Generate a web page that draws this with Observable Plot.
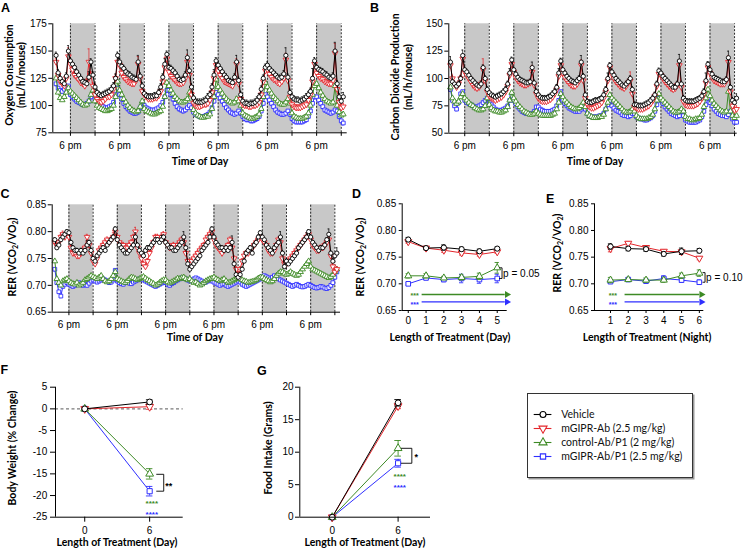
<!DOCTYPE html>
<html><head><meta charset="utf-8">
<script src="https://cdn.jsdelivr.net/npm/d3@7"></script>
<script src="https://cdn.jsdelivr.net/npm/@observablehq/plot@0.6"></script>
<style>
html,body{margin:0;padding:0;background:#fff}
#fig{position:relative;width:747px;height:549px;overflow:hidden;background:#fff}
</style></head>
<body><div id="fig"></div>
<script>
// ---------------- DATA ----------------
const seriesNames = ["Vehicle","mGIPR-Ab (2.5 mg/kg)","control-Ab/P1 (2 mg/kg)","mGIPR-Ab/P1 (2.5 mg/kg)"];
// hours relative to the first 6 pm (lights off)
const hours = d3.range(-7, 134);
const darkStarts = [0, 24, 48, 72, 96, 120];
const phaseBounds = [0, 12, 24, 36, 48, 60, 72, 84, 96, 108, 120, 132];

// Panel A: oxygen consumption (mL/h/mouse)
const a_vehicle = [
146,130,125,122,120,127,150,
141,138,135,131,128,125,122,121,120,126,140,128,
117,112,110,109,110,111,112,113,115,118,125,146,
140,136,134,131,129,128,126,125,124,140,127,118,
111,109,108,108,108,109,109,112,117,126,138,147,
135,134,132,130,127,124,123,124,128,144,132,117,
107,104,103,103,103,104,105,108,110,117,128,141,
137,134,131,128,126,123,122,121,126,140,123,110,
104,102,102,101,102,102,103,105,108,115,125,135,
137,134,132,130,128,126,125,126,129,146,126,112,
108,106,105,105,104,105,106,108,110,113,125,141,
135,133,132,131,129,128,126,125,127,150,120,108,
104,108];
const a_mgipr = [
140,128,122,120,118,125,145,
138,133,128,126,124,121,120,118,122,140,128,118,
110,106,104,103,104,106,108,108,110,115,125,140,
137,130,126,124,122,121,120,120,123,138,125,113,
110,108,106,106,106,107,107,109,113,122,135,143,
131,127,125,123,121,120,120,121,125,140,128,110,
102,100,99,99,100,101,101,102,105,112,125,137,
132,128,125,122,121,120,119,118,122,138,120,106,
101,100,100,99,99,100,100,101,103,110,122,132,
133,129,126,124,123,121,120,122,125,142,123,108,
101,99,98,98,98,99,100,101,105,110,122,138,
130,127,125,124,122,121,120,120,123,148,115,103,
98,99];
const a_ctrlP1 = [
125,112,107,105,108,112,116,
113,111,109,107,105,103,101,100,101,104,110,114,
104,100,98,97,96,95,95,96,97,100,108,122,
114,110,106,103,100,98,96,95,94,95,99,104,
97,95,94,93,92,92,93,94,95,99,108,121,
118,114,111,108,106,104,103,103,104,106,112,110,
96,93,91,90,89,89,90,90,92,97,108,124,
117,114,111,108,106,104,103,102,103,106,104,100,
93,91,90,89,88,88,89,90,92,97,108,121,
117,114,111,108,106,104,102,101,101,103,106,102,
93,90,89,88,88,88,89,90,93,100,110,118,
120,116,112,109,106,104,103,102,103,118,100,94,
91,92];
const a_mgiprP1 = [
120,116,114,113,115,117,118,
110,108,106,104,103,102,101,101,102,104,108,110,
106,104,102,100,99,98,98,99,100,103,110,116,
110,106,102,99,97,95,94,93,93,94,98,102,
100,98,97,96,96,96,97,98,100,103,108,114,
114,110,106,102,99,97,96,95,96,98,100,98,
94,92,91,90,90,90,91,92,94,98,104,112,
110,107,104,101,98,96,94,93,92,93,95,93,
90,88,87,87,86,86,87,88,90,95,102,110,
108,105,102,99,96,94,93,92,92,93,95,92,
88,86,85,85,85,85,86,87,90,95,102,108,
108,105,102,99,96,95,94,93,94,96,95,90,
86,84];
const a_sem = [3, 3, 2, 2];
const a_vehicle_bigerr = [[-1,5],[9,5],[22,4],[33,6],[46,5],[57,7],[70,5],[81,6],[105,7],[118,9],[129,8],[133,4]];
const a_mgipr_bigerr = [[-5,6],[-1,8],[9,12],[23,6],[33,7],[57,7],[70,6],[81,5],[105,6],[129,9]];

// Panel B: carbon dioxide production (mL/h/mouse)
const b_vehicle = [
115,97,95,93,95,100,121,
108,106,103,100,98,96,94,93,95,110,100,90,
87,85,84,83,84,85,86,88,90,95,105,117,
108,104,101,99,98,97,96,96,97,110,96,88,
85,83,82,82,82,83,84,86,88,92,105,116,
108,105,102,100,98,97,96,98,100,115,102,85,
79,78,78,79,80,80,81,82,85,90,100,112,
106,103,100,98,96,94,93,95,97,100,90,76,
76,75,75,75,76,77,78,80,82,85,95,107,
105,102,100,98,96,94,92,92,95,116,95,82,
80,79,79,79,79,80,81,82,84,88,98,113,
108,104,101,100,99,98,97,97,99,119,92,80,
78,82];
const b_mgipr = [
112,100,95,92,95,100,118,
106,103,100,97,94,92,91,92,95,108,98,88,
84,82,81,80,81,82,83,85,88,93,103,113,
106,101,98,96,95,94,94,95,96,106,94,86,
82,80,79,79,79,80,81,83,86,90,102,112,
105,101,98,96,94,93,93,95,98,112,98,82,
76,74,73,73,74,75,76,78,82,88,98,110,
104,100,97,95,93,92,91,93,96,98,86,74,
73,72,72,72,73,74,75,77,80,84,93,104,
103,100,97,95,93,91,90,91,94,112,92,79,
76,75,75,75,75,76,77,79,82,86,96,110,
105,101,98,97,96,95,95,95,98,115,88,75,
71,72];
const b_ctrlP1 = [
92,82,79,77,79,83,86,
82,80,78,76,75,73,72,71,71,72,75,82,
76,73,71,70,70,69,69,70,71,74,80,87,
82,79,76,74,72,70,69,68,67,67,68,70,
68,67,66,66,66,66,66,67,68,72,78,86,
83,80,78,76,74,73,72,72,73,75,78,74,
68,66,65,64,64,64,65,65,67,72,78,85,
82,80,78,76,74,72,70,69,69,70,72,70,
66,64,63,63,63,63,64,65,67,72,80,86,
82,80,78,76,74,72,70,69,69,70,72,70,
65,63,63,62,62,63,63,64,67,74,82,90,
84,80,77,75,73,71,70,69,70,88,70,66,
64,66];
const b_mgiprP1 = [
90,80,75,72,78,86,88,
80,78,77,76,75,74,74,75,76,78,80,82,
78,76,74,72,71,71,71,72,73,75,80,84,
80,77,74,72,70,69,68,68,68,68,70,74,
74,72,71,70,70,70,70,71,72,75,80,88,
80,77,75,73,72,71,70,70,70,72,74,72,
68,66,65,65,65,65,66,66,68,72,76,80,
75,73,71,70,69,67,66,66,65,66,68,68,
65,64,63,63,62,62,63,64,66,70,76,82,
80,77,74,72,70,68,67,66,65,66,70,66,
62,61,60,60,60,60,61,62,65,70,76,82,
78,75,72,70,68,67,66,66,65,67,70,63,
60,60];
const b_sem = [2.5, 3, 1.5, 1.5];
const b_vehicle_bigerr = [[-7,5],[-1,5],[22,4],[33,5],[46,4],[57,6],[70,5],[105,6],[118,7],[129,6],[133,4]];
const b_mgipr_bigerr = [[-1,4],[9,10],[23,5],[33,6],[57,5],[81,8],[105,5],[129,6]];

// Panel C: RER (VCO2/VO2)
const c_vehicle = [
.785,.770,.775,.785,.790,.795,.800,
.798,.780,.770,.765,.765,.760,.765,.760,.765,.775,.780,.765,
.750,.745,.755,.760,.765,.770,.765,.775,.780,.785,.790,.805,
.785,.775,.770,.765,.760,.760,.765,.770,.775,.790,.775,.765,
.760,.755,.765,.770,.770,.775,.780,.785,.785,.780,.785,.790,
.780,.775,.770,.770,.765,.765,.770,.775,.780,.790,.770,.740,
.730,.735,.740,.745,.750,.755,.765,.770,.775,.780,.790,.805,
.790,.780,.775,.770,.770,.765,.770,.765,.770,.780,.740,.720,
.715,.720,.730,.745,.760,.765,.770,.760,.775,.780,.790,.798,
.790,.785,.775,.770,.765,.760,.770,.775,.780,.790,.760,.735,
.745,.740,.745,.750,.755,.760,.770,.775,.780,.785,.790,.800,
.790,.780,.775,.770,.765,.770,.770,.775,.785,.795,.760,.745,
.755,.760];
const c_mgipr = [
.780,.775,.780,.790,.795,.790,.795,
.790,.770,.760,.760,.755,.755,.760,.765,.770,.790,.775,.760,
.745,.740,.750,.765,.770,.775,.780,.785,.780,.785,.790,.800,
.790,.780,.775,.775,.770,.770,.775,.780,.790,.800,.770,.760,
.750,.740,.735,.745,.760,.770,.780,.790,.790,.785,.790,.795,
.780,.775,.770,.770,.775,.770,.775,.780,.785,.780,.760,.745,
.740,.745,.750,.755,.760,.765,.770,.775,.785,.790,.795,.800,
.785,.775,.770,.765,.760,.765,.770,.775,.785,.770,.750,.730,
.720,.730,.745,.755,.760,.760,.765,.770,.775,.780,.785,.790,
.785,.780,.775,.765,.760,.760,.765,.775,.785,.780,.750,.740,
.740,.745,.750,.755,.760,.765,.770,.775,.780,.785,.790,.795,
.785,.775,.770,.765,.765,.770,.770,.775,.780,.785,.755,.735,
.725,.730];
const c_ctrlP1 = [
.745,.712,.705,.700,.708,.710,.712,
.708,.705,.703,.702,.705,.700,.702,.705,.710,.712,.715,.718,
.716,.714,.712,.715,.718,.712,.708,.706,.708,.712,.718,.725,
.712,.710,.708,.706,.705,.708,.712,.715,.714,.712,.710,.712,
.714,.716,.713,.710,.708,.705,.703,.700,.702,.705,.708,.710,
.710,.706,.704,.706,.708,.710,.713,.712,.714,.715,.712,.710,
.712,.708,.705,.706,.703,.700,.702,.705,.708,.710,.712,.713,
.715,.712,.710,.708,.710,.712,.708,.705,.706,.708,.710,.712,
.714,.712,.710,.708,.707,.705,.706,.707,.708,.710,.713,.715,
.715,.712,.710,.708,.706,.708,.712,.718,.722,.725,.725,.722,
.720,.722,.725,.722,.720,.718,.720,.725,.730,.735,.740,.745,
.735,.730,.728,.726,.724,.722,.720,.718,.716,.714,.716,.720,
.725,.730];
const c_mgiprP1 = [
.730,.705,.688,.680,.698,.702,.705,
.702,.700,.698,.700,.702,.705,.703,.700,.702,.700,.704,.708,
.710,.708,.706,.708,.710,.712,.710,.708,.705,.706,.710,.728,
.708,.705,.703,.702,.705,.706,.704,.703,.706,.708,.710,.712,
.712,.710,.708,.706,.704,.702,.700,.698,.700,.702,.704,.706,
.705,.702,.700,.703,.705,.708,.710,.712,.714,.713,.712,.710,
.708,.710,.712,.714,.712,.710,.708,.705,.706,.708,.710,.708,
.706,.704,.702,.700,.702,.703,.700,.698,.700,.702,.704,.706,
.708,.706,.702,.700,.698,.700,.702,.704,.706,.708,.710,.712,
.716,.718,.716,.714,.712,.715,.718,.716,.712,.710,.708,.706,
.704,.702,.700,.698,.700,.702,.700,.698,.697,.698,.700,.702,
.700,.698,.696,.695,.696,.698,.697,.695,.694,.696,.700,.705,
.715,.725];
const c_sem = [0.004, 0.005, 0.003, 0.003];
const c_vehicle_bigerr = [[9,.008],[33,.008],[46,.008],[57,.01],[81,.012],[105,.01],[118,.008],[129,.01],[133,.01]];
const c_mgipr_bigerr = [[-3,.006],[22,.008],[33,.008],[57,.007]];

// Panel D: RER by day of treatment
const d_day = [0, 1, 2, 3, 4, 5];
const d_vehicle = [0.783, 0.767, 0.768, 0.765, 0.761, 0.766];
const d_mgipr = [0.779, 0.767, 0.763, 0.758, 0.755, 0.760];
const d_ctrlP1 = [0.715, 0.715, 0.711, 0.712, 0.714, 0.730];
const d_mgiprP1 = [0.700, 0.711, 0.708, 0.710, 0.708, 0.710];
const d_vehicle_err = [0.004, 0.003, 0.005, 0.004, 0.004, 0.003];
const d_mgipr_err = [0.003, 0.003, 0.004, 0.004, 0.003, 0.003];
const d_ctrlP1_err = [0.004, 0.004, 0.003, 0.005, 0.006, 0.010];
const d_mgiprP1_err = [0.002, 0.003, 0.004, 0.008, 0.007, 0.008];

// Panel E: RER by night of treatment
const e_night = [1, 2, 3, 4, 5, 6];
const e_vehicle = [0.770, 0.766, 0.765, 0.756, 0.761, 0.762];
const e_mgipr = [0.766, 0.776, 0.768, 0.761, 0.760, 0.748];
const e_ctrlP1 = [0.707, 0.708, 0.707, 0.707, 0.715, 0.720];
const e_mgiprP1 = [0.704, 0.708, 0.705, 0.710, 0.707, 0.703];
const e_vehicle_err = [0.005, 0.004, 0.004, 0.004, 0.006, 0.004];
const e_mgipr_err = [0.006, 0.003, 0.003, 0.003, 0.003, 0.003];
const e_ctrlP1_err = [0.005, 0.003, 0.004, 0.004, 0.005, 0.006];
const e_mgiprP1_err = [0.003, 0.003, 0.003, 0.005, 0.004, 0.004];

// Panel F: body weight (% change)
const f_day = [0, 6];
const f_vehicle = [0, 1.6];
const f_mgipr = [0, 0.5];
const f_ctrlP1 = [0, -15.0];
const f_mgiprP1 = [0, -19.0];
const f_vehicle_err = [0, 0.5];
const f_mgipr_err = [0, 0.6];
const f_ctrlP1_err = [0, 1.2];
const f_mgiprP1_err = [0, 1.1];

// Panel G: food intake (grams)
const g_day = [0, 6];
const g_vehicle = [0, 17.6];
const g_mgipr = [0, 17.1];
const g_ctrlP1 = [0, 10.6];
const g_mgiprP1 = [0, 8.3];
const g_vehicle_err = [0, 0.5];
const g_mgipr_err = [0, 0.4];
const g_ctrlP1_err = [0, 1.2];
const g_mgiprP1_err = [0, 0.6];

// ---------------- STYLE ----------------
const COLORS = ["#000000", "#e3262b", "#3d8a25", "#2f2fff"];
const ERRDIR = [1, 1, 1, -1];
const sqrt3 = Math.sqrt(3);
const triangleDown = {draw(ctx, size) {
  const y = -Math.sqrt(size / (sqrt3 * 3));
  ctx.moveTo(0, -y * 2); ctx.lineTo(-sqrt3 * y, y); ctx.lineTo(sqrt3 * y, y); ctx.closePath();
}};
const triangleRight = {draw(ctx, size) {
  const y = -Math.sqrt(size / (sqrt3 * 3));
  ctx.moveTo(-y * 2, 0); ctx.lineTo(y, -sqrt3 * y); ctx.lineTo(y, sqrt3 * y); ctx.closePath();
}};
const SYMBOLS = [d3.symbolCircle, triangleDown, d3.symbolTriangle, d3.symbolSquare];
const TICKFONT = "'Liberation Sans', Arial, Helvetica, sans-serif";
const fig = document.getElementById("fig");

function place(el, left, top) {
  el.style.position = "absolute";
  el.style.left = left + "px";
  el.style.top = top + "px";
  el.style.background = "transparent";
  el.style.overflow = "visible";
  el.style.maxWidth = "none";
  fig.appendChild(el);
}

// ---------------- TIME COURSE PANELS ----------------
function timePanel(cfg) {
  const {vals, sem, big, yDom, yTicks, yFmt, xDom, left, top, width, height, m} = cfg;
  const marks = [
    Plot.rect(darkStarts, {x1: d => d, x2: d => d + 12, y1: () => yDom[0], y2: () => yDom[1], fill: "#c8c8c8"}),
    Plot.ruleX(phaseBounds, {x: d => d, y1: () => yDom[0], y2: () => yDom[1], stroke: "#111", strokeWidth: 0.9, strokeDasharray: "2,1.5"})
  ];
  for (const k of [3, 2, 1, 0]) {
    const bm = new Map(big[k] || []);
    const rows = hours.map((t, i) => ({t, v: vals[k][i], e: bm.has(t) ? bm.get(t) : sem[k]}));
    const tip = d => d.v + ERRDIR[k] * d.e;
    marks.push(
      Plot.ruleX(rows, {x: "t", y1: "v", y2: tip, stroke: COLORS[k], strokeWidth: 0.7}),
      Plot.ruleY(rows, {y: tip, x1: d => d.t - 0.45, x2: d => d.t + 0.45, stroke: COLORS[k], strokeWidth: 0.7}),
      Plot.line(rows, {x: "t", y: "v", stroke: COLORS[k], strokeWidth: 1}),
      Plot.dot(rows, {x: "t", y: "v", symbol: SYMBOLS[k], r: 2.1, stroke: COLORS[k], strokeWidth: 0.9, fill: "#fff"})
    );
  }
  marks.push(Plot.ruleX([xDom[0]], {stroke: "#000", strokeWidth: 1}), Plot.ruleY([yDom[0]], {stroke: "#000", strokeWidth: 1}));
  const el = Plot.plot({
    width, height, marginLeft: m[0], marginTop: m[1], marginRight: m[2], marginBottom: m[3],
    x: {domain: xDom, ticks: phaseBounds, tickFormat: d => (d % 24 === 0 ? "6 pm" : ""), tickSize: 3.5, tickPadding: 5.5, label: null},
    y: {domain: yDom, ticks: yTicks, tickFormat: yFmt, tickSize: 4, tickPadding: 2, label: null},
    style: {fontFamily: TICKFONT, fontSize: "10px", color: "#000"},
    marks
  });
  place(el, left, top);
}

timePanel({vals: [a_vehicle, a_mgipr, a_ctrlP1, a_mgiprP1], sem: a_sem, big: [a_vehicle_bigerr, a_mgipr_bigerr],
  yDom: [75, 175], yTicks: [75, 100, 125, 150, 175], yFmt: d => String(d), xDom: [-8.6, 134.9],
  left: 0, top: 0, width: 350, height: 170, m: [52.3, 23.3, 3.3, 37.7]});
timePanel({vals: [b_vehicle, b_mgipr, b_ctrlP1, b_mgiprP1], sem: b_sem, big: [b_vehicle_bigerr, b_mgipr_bigerr],
  yDom: [50, 150], yTicks: [50, 75, 100, 125, 150], yFmt: d => String(d), xDom: [-7.8, 133.3],
  left: 370, top: 0, width: 377, height: 170, m: [78.3, 23.3, 10.3, 37.3]});
timePanel({vals: [c_vehicle, c_mgipr, c_ctrlP1, c_mgiprP1], sem: c_sem, big: [c_vehicle_bigerr, c_mgipr_bigerr],
  yDom: [0.65, 0.85], yTicks: [0.65, 0.70, 0.75, 0.80, 0.85], yFmt: d3.format(".2f"), xDom: [-8.3, 134.8],
  left: 0, top: 175, width: 350, height: 165, m: [51.7, 29.3, 10, 28.3]});

// ---------------- TREATMENT PANELS ----------------
function treatPanel(cfg) {
  const {xs, vals, errs, xDom, xTicks, yDom, yTicks, yFmt, left, top, width, height, m, r, capW, extra, under, tx, ty} = cfg;
  const marks = [...(under || [])];
  for (const k of [3, 2, 1, 0]) {
    const rows = xs.map((x, i) => ({x, v: vals[k][i], e: errs[k][i]}));
    const er = rows.filter(d => d.e > 0);
    marks.push(
      Plot.ruleX(er, {x: "x", y1: d => d.v - d.e, y2: d => d.v + d.e, stroke: COLORS[k], strokeWidth: 0.9}),
      Plot.ruleY(er, {y: d => d.v + d.e, x1: d => d.x - capW, x2: d => d.x + capW, stroke: COLORS[k], strokeWidth: 0.9}),
      Plot.ruleY(er, {y: d => d.v - d.e, x1: d => d.x - capW, x2: d => d.x + capW, stroke: COLORS[k], strokeWidth: 0.9}),
      Plot.line(rows, {x: "x", y: "v", stroke: COLORS[k], strokeWidth: 1}),
      Plot.dot(rows, {x: "x", y: "v", symbol: SYMBOLS[k], r, stroke: COLORS[k], strokeWidth: 1, fill: "#fff"})
    );
  }
  marks.push(...(extra || []));
  marks.push(Plot.ruleX([xDom[0]], {stroke: "#000", strokeWidth: 1}), Plot.ruleY([yDom[0]], {stroke: "#000", strokeWidth: 1}));
  const el = Plot.plot({
    width, height, marginLeft: m[0], marginTop: m[1], marginRight: m[2], marginBottom: m[3],
    x: {domain: xDom, ticks: xTicks, tickFormat: d => String(d), tickSize: tx[0], tickPadding: tx[1], label: null},
    y: {domain: yDom, ticks: yTicks, tickFormat: yFmt, tickSize: ty[0], tickPadding: ty[1], label: null},
    style: {fontFamily: TICKFONT, fontSize: "10px", color: "#000"},
    marks
  });
  place(el, left, top);
}

// significance stars: shift = extra vertical nudge in px (negative = up)
function stars(x, y, s, color, size, shift) {
  return Plot.text([{x, y, s}], {x: "x", y: "y", text: "s", fill: color, fontSize: size, fontWeight: "bold", dy: size * 0.3 + shift, lineHeight: 0.8});
}
function sigArrow(y, x1, x2, color, starX, s, shift) {
  return [
    Plot.ruleY([y], {x1: () => x1, x2: () => x2 - 0.1, stroke: color, strokeWidth: 1.3}),
    Plot.dot([{x: x2, y}], {x: "x", y: "y", symbol: triangleRight, r: 2.6, fill: color, stroke: "none"}),
    stars(starX, y, s, color, 7, shift)
  ];
}
function bracket(x0, x1, y1, y2) {
  return Plot.line([{x: x0, y: y1}, {x: x1, y: y1}, {x: x1, y: y2}, {x: x0, y: y2}], {x: "x", y: "y", stroke: "#000", strokeWidth: 0.9});
}
function label(x, y, s, opts = {}) {
  return Plot.text([{x, y, s}], {x: "x", y: "y", text: "s", textAnchor: "start", fontSize: 10, fill: "#000", ...opts});
}

treatPanel({xs: d_day, vals: [d_vehicle, d_mgipr, d_ctrlP1, d_mgiprP1], errs: [d_vehicle_err, d_mgipr_err, d_ctrlP1_err, d_mgiprP1_err],
  xDom: [-0.34, 5.56], xTicks: d_day, yDom: [0.65, 0.85], yTicks: [0.65, 0.70, 0.75, 0.80, 0.85], yFmt: d3.format(".2f"),
  left: 370, top: 175, width: 180, height: 165, m: [31.7, 28.3, 43.3, 30], r: 2.6, capW: 0.12, tx: [3, 3.5], ty: [3, 3],
  extra: [
    ...sigArrow(0.680, 0.78, 5.55, COLORS[2], 0.36, "***", -0.8),
    ...sigArrow(0.666, 0.78, 5.55, COLORS[3], 0.36, "***", 0.8),
    bracket(5.13, 5.27, 0.730, 0.710),
    label(5.33, 0.7195, "p = 0.05")
  ]});

treatPanel({xs: e_night, vals: [e_vehicle, e_mgipr, e_ctrlP1, e_mgiprP1], errs: [e_vehicle_err, e_mgipr_err, e_ctrlP1_err, e_mgiprP1_err],
  xDom: [0.1, 6.25], xTicks: e_night, yDom: [0.65, 0.85], yTicks: [0.65, 0.70, 0.75, 0.80, 0.85], yFmt: d3.format(".2f"),
  left: 565, top: 175, width: 182, height: 165, m: [29, 28.3, 43.7, 30], r: 2.6, capW: 0.12, tx: [3, 3.5], ty: [3, 3],
  extra: [
    ...sigArrow(0.680, 1.82, 6.12, COLORS[2], 1.13, "***", -0.8),
    ...sigArrow(0.666, 1.82, 6.12, COLORS[3], 1.13, "***", 0.8),
    bracket(6.2, 6.32, 0.721, 0.703),
    label(6.38, 0.712, "p = 0.10")
  ]});

treatPanel({xs: f_day, vals: [f_vehicle, f_mgipr, f_ctrlP1, f_mgiprP1], errs: [f_vehicle_err, f_mgipr_err, f_ctrlP1_err, f_mgiprP1_err],
  xDom: [-2.7, 9.1], xTicks: f_day, yDom: [-25, 5], yTicks: [-25, -20, -15, -10, -5, 0, 5], yFmt: d => String(d),
  left: 0, top: 370, width: 200, height: 179, m: [55, 16.7, 17.3, 32.3], r: 2.9, capW: 0.3, tx: [5, 5], ty: [5, 3.3],
  under: [Plot.ruleY([0], {stroke: "#7a7a7a", strokeWidth: 1.3, strokeDasharray: "3,2.5"})],
  extra: [
    bracket(6.65, 7.3, -15.1, -19.0),
    label(7.45, -17.2, "**", {fontSize: 9, fontWeight: "bold", dy: 2.5}),
    stars(6.2, -21.7, "****", COLORS[2], 8, -1),
    stars(6.2, -23.6, "****", COLORS[3], 8, 1)
  ]});

treatPanel({xs: g_day, vals: [g_vehicle, g_mgipr, g_ctrlP1, g_mgiprP1], errs: [g_vehicle_err, g_mgipr_err, g_ctrlP1_err, g_mgiprP1_err],
  xDom: [-2.95, 8.95], xTicks: g_day, yDom: [0, 20], yTicks: [0, 5, 10, 15, 20], yFmt: d => String(d),
  left: 250, top: 370, width: 200, height: 179, m: [49.3, 16.7, 20, 32.3], r: 2.9, capW: 0.3, tx: [5, 4.5], ty: [4.3, 2],
  extra: [
    bracket(6.3, 7.25, 10.6, 8.3),
    label(7.5, 9.6, "*", {fontSize: 9, fontWeight: "bold", dy: 2.5}),
    stars(6.15, 6.35, "****", COLORS[2], 8, -1),
    stars(6.15, 5.05, "****", COLORS[3], 8, 1)
  ]});

// ---------------- LEGEND ----------------
{
  const rows = seriesNames.map((name, k) => ({name, k}));
  const el = Plot.plot({
    width: 164, height: 83, margin: 0,
    x: {domain: [0, 164], axis: null},
    y: {type: "point", domain: seriesNames, range: [12.3, 70], axis: null},
    style: {fontFamily: "Lato, 'Open Sans', sans-serif", fontSize: "10.5px", color: "#111"},
    marks: [
      Plot.ruleY(rows, {y: "name", x1: () => 5.7, x2: () => 23.4, stroke: d => COLORS[d.k], strokeWidth: 1.1}),
      ...rows.map(d => Plot.dot([d], {x: () => 14.5, y: "name", symbol: SYMBOLS[d.k], r: 3, stroke: COLORS[d.k], strokeWidth: 1.1, fill: "#fff"})),
      Plot.text(rows, {x: () => 32.7, y: "name", text: "name", textAnchor: "start", fill: "#111", fontSize: 10.5})
    ]
  });
  place(el, 527.3, 392.7);
  el.style.border = "1px solid #333";
  el.style.boxShadow = "1.5px 1.5px 0 #9a9a9a";
  el.style.background = "#fff";
}

// ---------------- TITLES & PANEL LETTERS ----------------
const sub = '<tspan font-size="7" dy="2">2</tspan>';
const rer = `RER (VCO${sub}<tspan dy="-2">/VO</tspan>${sub}<tspan dy="-2">)</tspan>`;
const ov = `
<svg width="747" height="549" style="position:absolute;left:0;top:0;pointer-events:none" font-family="Lato, 'Open Sans', sans-serif" font-weight="bold" font-size="10.5" fill="#000">
 <g font-family="'Liberation Sans', Arial, sans-serif" font-size="12.5">
  <text x="1" y="11.5">A</text>
  <text x="370" y="11.5">B</text>
  <text x="0.5" y="198">C</text>
  <text x="352" y="198">D</text>
  <text x="546" y="203">E</text>
  <text x="0.5" y="373.5">F</text>
  <text x="257" y="375">G</text>
 </g>
 <text transform="translate(13,75) rotate(-90)" text-anchor="middle">Oxygen Consumption</text>
 <text transform="translate(25.2,75) rotate(-90)" text-anchor="middle">(mL/h/mouse)</text>
 <text transform="translate(398.5,77) rotate(-90)" text-anchor="middle">Carbon Dioxide Production</text>
 <text transform="translate(411.8,77) rotate(-90)" text-anchor="middle">(mL/h/mouse)</text>
 <text transform="translate(15.5,257) rotate(-90)" text-anchor="middle">${rer}</text>
 <text transform="translate(364,257) rotate(-90)" text-anchor="middle">${rer}</text>
 <text transform="translate(561,253) rotate(-90)" text-anchor="middle">${rer}</text>
 <text transform="translate(16,448) rotate(-90)" text-anchor="middle">Body Weight (% Change)</text>
 <text transform="translate(271.5,448) rotate(-90)" text-anchor="middle">Food Intake (Grams)</text>
 <text x="200" y="165" text-anchor="middle">Time of Day</text>
 <text x="595" y="165" text-anchor="middle">Time of Day</text>
 <text x="195" y="341" text-anchor="middle">Time of Day</text>
 <text x="450" y="341" text-anchor="middle">Length of Treatment (Day)</text>
 <text x="647" y="341" text-anchor="middle">Length of Treatment (Night)</text>
 <text x="117" y="545.5" text-anchor="middle">Length of Treatment (Day)</text>
 <text x="365" y="545.5" text-anchor="middle">Length of Treatment (Day)</text>
</svg>`;
fig.insertAdjacentHTML("beforeend", ov);
</script>
</body></html>
